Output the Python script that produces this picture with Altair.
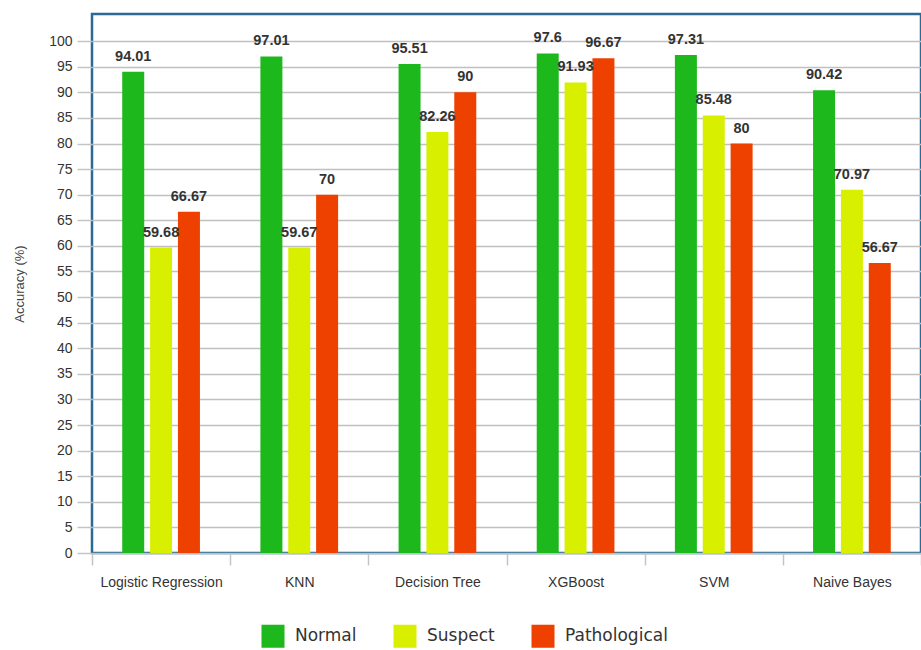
import altair as alt
import pandas as pd

models = ["Logistic Regression", "KNN", "Decision Tree", "XGBoost", "SVM", "Naive Bayes"]
series = ["Normal", "Suspect", "Pathological"]
normal = [94.01, 97.01, 95.51, 97.6, 97.31, 90.42]
suspect = [59.68, 59.67, 82.26, 91.93, 85.48, 70.97]
pathological = [66.67, 70, 90, 96.67, 80, 56.67]
label_normal = ["94.01", "97.01", "95.51", "97.6", "97.31", "90.42"]
label_suspect = ["59.68", "59.67", "82.26", "91.93", "85.48", "70.97"]
label_pathological = ["66.67", "70", "90", "96.67", "80", "56.67"]
colors = ["#1cb81c", "#d8f000", "#ee4100"]
y_ticks = list(range(0, 101, 5))

rows = []
for vals, labs, s in [(normal, label_normal, "Normal"),
                      (suspect, label_suspect, "Suspect"),
                      (pathological, label_pathological, "Pathological")]:
    for m, v, l in zip(models, vals, labs):
        rows.append({"model": m, "series": s, "value": v, "label": l})
df = pd.DataFrame(rows)

x_scale = alt.Scale(paddingInner=0, paddingOuter=0)
y_scale = alt.Scale(domain=[0, 105.3], nice=False, zero=True)
xo_scale = alt.Scale(paddingInner=0.04, paddingOuter=1)

x_enc = alt.X("model:N", sort=models, title=None, scale=x_scale,
              axis=alt.Axis(tickBand="extent", labelAngle=0, domain=False,
                            tickColor="#c4c4c4", tickSize=12, tickWidth=1.5,
                            labelPadding=10, labelFontSize=14,
                            labelFont="Liberation Sans", labelColor="#333333"))
y_enc = alt.Y("value:Q", title="Accuracy (%)", scale=y_scale,
              axis=alt.Axis(values=y_ticks, labelOverlap=False, domain=False,
                            tickColor="#c4c4c4", tickSize=15, tickWidth=1.5,
                            gridColor="#c0c0c0", gridWidth=1.5, labelFontSize=14,
                            labelFont="Liberation Sans", labelColor="#333333",
                            labelPadding=5, titleFontSize=13, titleFontWeight="normal",
                            titleFont="Liberation Sans", titleColor="#444444",
                            titlePadding=22))
xo_enc = alt.XOffset("series:N", sort=series, scale=xo_scale)

bars = alt.Chart(df).mark_bar(width=22).encode(
    x=x_enc,
    xOffset=xo_enc,
    y=y_enc,
    color=alt.Color("series:N", sort=series, title=None,
                    scale=alt.Scale(domain=series, range=colors),
                    legend=alt.Legend(orient="none", direction="horizontal",
                                      legendX=169, legendY=610,
                                      symbolType="square", symbolSize=530,
                                      symbolStrokeWidth=0, labelFontSize=17,
                                      labelFont="DejaVu Sans", labelColor="#333333",
                                      labelOffset=10, columnPadding=36)),
)

texts = alt.Chart(df).mark_text(dy=-8, fontWeight="bold", fontSize=14.5,
                                font="Liberation Sans", color="#333333",
                                baseline="bottom").encode(
    x=x_enc,
    xOffset=xo_enc,
    y=y_enc,
    text="label:N",
)

chart = (bars + texts).properties(
    width=829, height=539,
    background="white",
    autosize=alt.AutoSizeParams(type="none"),
    padding={"left": 92, "top": 14, "right": 0, "bottom": 97},
).configure_view(stroke="#2a6a94", strokeWidth=2.5)

chart.save("out.html", embed_options={"renderer": "svg", "actions": False})
